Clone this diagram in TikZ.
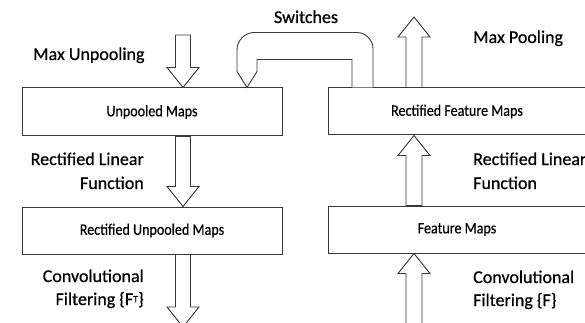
\documentclass[tikz,border=0pt]{standalone}
\usepackage{fontspec}
\setmainfont{Carlito}[FakeBold=0.6]
\newfontfamily\mapfont{Carlito}[FakeStretch=0.88, FakeBold=0.5]
\usetikzlibrary{calc}

% block arrow pointing down: shaft starts at #1, tip at #2
\newcommand\blkdown[2]{%
  \draw[blk] let \p1=(#1), \p2=(#2) in
    (\x1-7.5pt,\y1) -- (\x1-7.5pt,\y2+20pt) -- (\x1-16pt,\y2+20pt) --
    (\x1,\y2) -- (\x1+16pt,\y2+20pt) -- (\x1+7.5pt,\y2+20pt) --
    (\x1+7.5pt,\y1) -- cycle;}
% block arrow pointing up: shaft starts at #1, tip at #2
\newcommand\blkup[2]{%
  \draw[blk] let \p1=(#1), \p2=(#2) in
    (\x1-8pt,\y1) -- (\x1-8pt,\y2-20pt) -- (\x1-16pt,\y2-20pt) --
    (\x1,\y2) -- (\x1+16pt,\y2-20pt) -- (\x1+8pt,\y2-20pt) --
    (\x1+8pt,\y1) -- cycle;}

\tikzset{
  mapbox/.style={draw=black!78, line width=1pt, fill=white, inner sep=0pt,
    font=\mapfont\fontsize{16}{18}\selectfont, text=black},
  blk/.style={draw=black!78, line width=0.9pt, fill=white},
  lbl/.style={inner sep=0pt, font=\fontsize{18}{21}\selectfont, text=black},
}

\begin{document}
\begin{tikzpicture}[x=1pt, y=-1pt]
\useasboundingbox (0,0) rectangle (585,323);

% the four map boxes
\node[mapbox, minimum width=260pt, minimum height=48pt] (up)  at (152,112)   {Unpooled Maps};
\node[mapbox, minimum width=260pt, minimum height=47pt] (rup) at (152,230.5) {Rectified Unpooled Maps};
\node[mapbox, minimum width=258pt, minimum height=47pt] (rfm) at (457,111.5) {Rectified Feature Maps};
\node[mapbox, minimum width=258pt, minimum height=47pt] (fm)  at (457,229.5) {Feature Maps};

% free ends of the open arrows
\coordinate (mu)  at (183,35);
\coordinate (cf)  at (183,327);
\coordinate (mp)  at (414,17);
\coordinate (cin) at (414,330);

% deconvolution path (downwards)
\blkdown{mu}{up.north -| mu}
\blkdown{up.south -| mu}{rup.north -| mu}
\blkdown{rup.south -| mu}{cf}

% convolution path (upwards)
\blkup{cin}{fm.south -| mp}
\blkup{fm.north -| mp}{rfm.south -| mp}
\blkup{rfm.north -| mp}{mp}

% switches carried from pooling to unpooling
\coordinate (swin)  at ($(rfm.north)+(-105,0)$);
\coordinate (swout) at ($(rfm.north)+(-84,0)$);
\coordinate (swtip) at ($(up.north)+(95,0)$);
\draw[blk] (swin) -- ($(swin)+(0,-28)$) -- ($(swtip)+(10,-28)$) -- ($(swtip)+(10,-16)$)
  -- (swtip) -- ($(swtip)+(-10,-16)$) -- ($(swtip)+(-10,-38)$)
  .. controls ($(swtip)+(-10,-47)$) and ($(swtip)+(-2,-55)$) .. ($(swtip)+(7,-55)$)
  -- ($(swout)+(-16,-55)$)
  .. controls ($(swout)+(-7,-55)$) and ($(swout)+(0,-47)$) .. ($(swout)+(0,-39)$)
  -- (swout);

% labels
\node[lbl, anchor=base] (sw) at (306,23) {Switches};
\node[lbl, anchor=base west] (lmu) at (33,60) {Max Unpooling};
\node[lbl, anchor=base west] (rmp) at (473,43) {Max Pooling};
\node[lbl, anchor=base east] (lrl1) at (144,165) {Rectified Linear};
\node[lbl, anchor=base east] (lrl2) at (144,189) {Function};
\node[lbl, anchor=base west] (rrl1) at (473,165) {Rectified Linear};
\node[lbl, anchor=base west] (rrl2) at (473,189) {Function};
\node[lbl, anchor=base east] (lcf1) at (144,282) {Convolutional};
\node[lbl, anchor=base east] (lcf2) at (144,305) {Filtering \{F\raisebox{0.3ex}{\fontsize{10}{10}\selectfont T}\}};
\node[lbl, anchor=base west] (rcf1) at (473,283) {Convolutional};
\node[lbl, anchor=base west] (rcf2) at (473,306) {Filtering \{F\}};
\end{tikzpicture}
\end{document}
